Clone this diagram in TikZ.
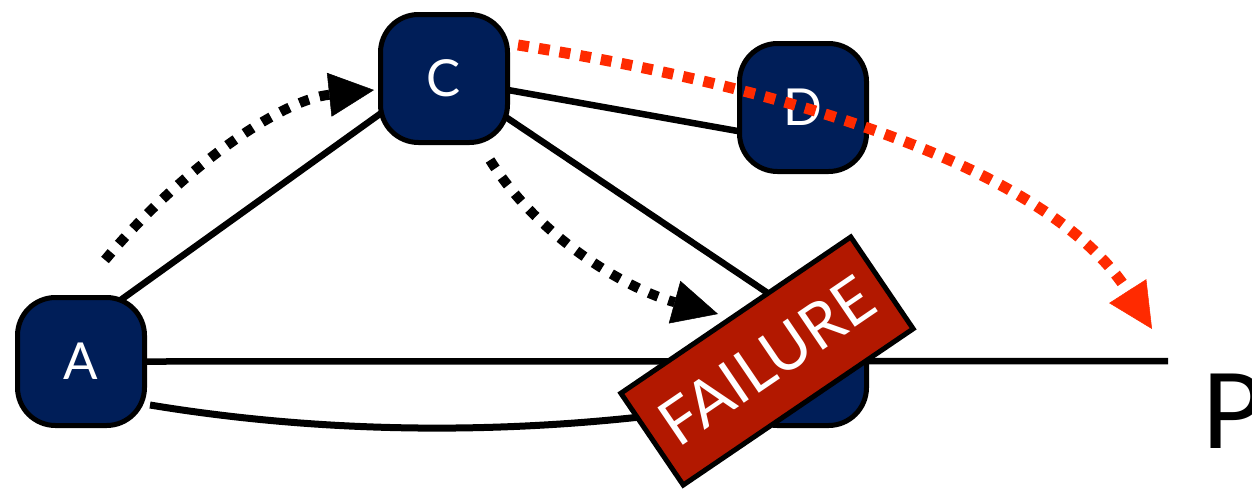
\documentclass[tikz,border=0pt]{standalone}
\usepackage{fontspec}
\setmainfont{Lato}
\usetikzlibrary{arrows.meta,calc}
\definecolor{navy}{RGB}{0,30,88}
\definecolor{failred}{RGB}{178,24,0}
\definecolor{dotred}{RGB}{255,42,0}
\begin{document}
\begin{tikzpicture}[x=1pt,y=-1pt,
  netnode/.style={draw=black, line width=5pt, fill=navy, rounded corners=38pt,
    minimum width=127pt, minimum height=128pt, text=white,
    font=\fontsize{51}{51}\selectfont, inner sep=0pt},
  link/.style={line width=6.5pt},
  blackdots/.style={line width=10pt, dash pattern=on 10pt off 11pt,
    -{Triangle[length=45pt,width=44pt,line width=0.5pt]}},
  reddots/.style={draw=dotred, line width=11pt, dash pattern=on 11pt off 10pt,
    -{Triangle[length=45pt,width=44pt,line width=0.5pt]}},
  failbox/.style={draw=black, line width=5pt, fill=failred, minimum width=278pt,
    minimum height=111pt, text=white, font=\fontsize{63}{63}\selectfont, inner sep=0pt}
]
\useasboundingbox (0,0) rectangle (1252,491);

% connector end points
\coordinate (ac1) at (97,317);
\coordinate (ac2) at (398,101);
\coordinate (cd1) at (480,85);
\coordinate (cd2) at (760,135);
\coordinate (cb1) at (470,93);
\coordinate (cb2) at (790,308);
\coordinate (ab1) at (150,405);
\coordinate (ab2) at (760,400);
\coordinate (pend) at (1168,361);

% solid links under the nodes
\draw[link] (ac1) -- (ac2);
\draw[link] (cd1) -- (cd2);
\draw[link] (cb1) -- (cb2);
\draw[link, line width=7pt] (ab1) .. controls (350,438) and (560,435) .. (ab2);

% nodes
\node[netnode] (A) at (81,361.5) {A};
\node[netnode] (C) at (444,78.5) {C};
\node[netnode] (D) at (803,107.5) {D};
\node[netnode] (B) at (803,361.5) {};

\draw[link] (A.east) -- (pend);

% dotted arrows
\coordinate (d1s) at (105,260);
\coordinate (d1e) at (374,90);
\coordinate (d2s) at (490,160);
\coordinate (d2e) at (718,314);
\coordinate (rs) at (518,45);
\coordinate (re) at (1152,329);
\draw[blackdots] (d1s) .. controls (180,170) and (280,100) .. (d1e);
\draw[blackdots] (d2s) .. controls (540,240) and (630,290) .. (d2e);
\draw[reddots] (rs) .. controls (800,90) and (1050,170) .. (re);

% failure label
\node[failbox, rotate=34.2] (F) at (767,361) {FAILURE};

% P
\node[anchor=base west, inner sep=0pt, font=\fontsize{104}{104}\selectfont] (P) at (1201,448) {P};
\end{tikzpicture}
\end{document}
